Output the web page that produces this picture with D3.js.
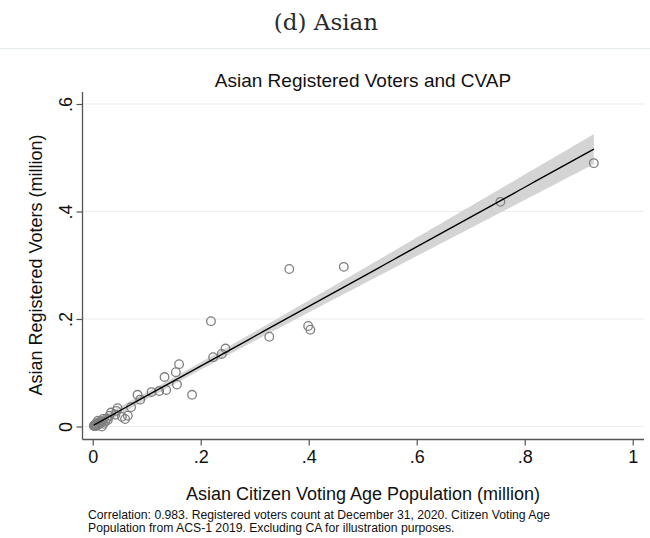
<!DOCTYPE html>
<html><head><meta charset="utf-8">
<script src="https://cdn.jsdelivr.net/npm/d3@7"></script>
<style>body{margin:0;background:#fff}svg{display:block}</style>
</head><body>
<svg id="c" width="650" height="538"></svg>
<script>
// CVAP (million) for each state, excluding CA
const cvap = [0.928,0.755,0.465,0.364,0.403,0.399,0.327,0.219,0.246,0.239,0.223,0.184,0.160,0.154,0.156,0.133,0.136,0.123,0.109,0.083,0.088,0.071,0.046,0.044,0.034,0.042,0.054,0.065,0.060,0.031,0.026,0.019,0.023,0.010,0.014,0.006,0.002,0.017,0.008,0.012,0.004,0.016,0.020,0.005,0.003,0.009,0.028,0.011,0.007];
// Registered voters (million)
const registered = [0.490,0.418,0.297,0.293,0.180,0.187,0.167,0.196,0.145,0.135,0.129,0.059,0.116,0.101,0.078,0.092,0.068,0.066,0.064,0.059,0.050,0.036,0.034,0.029,0.026,0.022,0.018,0.020,0.014,0.020,0.015,0.014,0.009,0.011,0.006,0.005,0.001,0.000,0.003,0.008,0.003,0.010,0.005,0.002,0.002,0.006,0.012,0.004,0.001];
const xTicks = [0,0.2,0.4,0.6,0.8,1];
const xTickLabels = ["0",".2",".4",".6",".8","1"];
const yTicks = [0,0.2,0.4,0.6];
const yTickLabels = ["0",".2",".4",".6"];

(function(){
const svg = d3.select("#c");
const font = "'Liberation Sans', Arial, sans-serif";
const x = d3.scaleLinear().domain([0,1]).range([92.7,632.7]);
const y = d3.scaleLinear().domain([0,0.6]).range([426.5,104]);
const pl = 82.5, pr = 644, pb = 439.5, pt = 92;

// header
svg.append("text").attr("x",326).attr("y",30).attr("text-anchor","middle")
  .attr("font-family","'DejaVu Serif', 'Liberation Serif', serif").attr("font-size",23).attr("fill","#2a2a2a").text("(d) Asian");
svg.append("line").attr("x1",0).attr("x2",650).attr("y1",48.5).attr("y2",48.5).attr("stroke","#e4ecee").attr("stroke-width",1.2);

// gridlines
svg.append("g").selectAll("line").data(yTicks).join("line")
  .attr("x1",pl).attr("x2",pr).attr("y1",d=>y(d)).attr("y2",d=>y(d))
  .attr("stroke","#ececec").attr("stroke-width",1);

// fit + CI
const n = cvap.length;
const xm = d3.mean(cvap), ym = d3.mean(registered);
let sxx=0,sxy=0; for(let i=0;i<n;i++){sxx+=(cvap[i]-xm)**2;sxy+=(cvap[i]-xm)*(registered[i]-ym);}
const b = sxy/sxx, a = ym-b*xm;
let sse=0; for(let i=0;i<n;i++){sse+=(registered[i]-a-b*cvap[i])**2;}
const s = Math.sqrt(sse/(n-2)), t = 2.012;
const xs = d3.range(0,101).map(i=>d3.min(cvap)+(d3.max(cvap)-d3.min(cvap))*i/100);
const band = xs.map(v=>{const se=s*Math.sqrt(1/n+(v-xm)**2/sxx);const f=a+b*v;return {v,lo:f-t*se,hi:f+t*se,f};});
svg.append("path").datum(band).attr("fill","#d4d4d4")
  .attr("d",d3.area().x(d=>x(d.v)).y0(d=>y(d.lo)).y1(d=>y(d.hi)));

// points
svg.append("g").selectAll("circle").data(cvap).join("circle")
  .attr("cx",d=>x(d)).attr("cy",(d,i)=>y(registered[i])).attr("r",4.3)
  .attr("fill","none").attr("stroke","#7f7f7f").attr("stroke-width",1.3);

svg.append("path").datum(band).attr("fill","none").attr("stroke","#000").attr("stroke-width",1.4)
  .attr("d",d3.line().x(d=>x(d.v)).y(d=>y(d.f)));

// axes
const ax = svg.append("g").attr("transform",`translate(0,${pb})`)
  .call(d3.axisBottom(x).tickValues(xTicks).tickFormat((d,i)=>xTickLabels[i]).tickSize(6).tickPadding(5));
ax.select(".domain").attr("d",`M${pl},0H${pr}`);
const ay = svg.append("g").attr("transform",`translate(${pl},0)`)
  .call(d3.axisLeft(y).tickValues(yTicks).tickFormat((d,i)=>yTickLabels[i]).tickSize(6).tickPadding(0));
ay.select(".domain").attr("d",`M0,${pt}V${pb}`);
[ax,ay].forEach(g=>{g.selectAll(".domain").attr("stroke","#555").attr("stroke-width",1.3);
  g.selectAll(".tick line").attr("stroke","#555").attr("stroke-width",1.2);
  g.selectAll("text").attr("font-family",font).attr("font-size",18).attr("fill","#111");});
ay.selectAll(".tick text").attr("text-anchor","middle").attr("dy",null)
  .attr("transform","translate(-17,0) rotate(-90)").attr("x",0).attr("dy","0.35em");

// titles
svg.append("text").attr("x",363).attr("y",87).attr("text-anchor","middle").attr("font-family",font)
  .attr("font-size",19).attr("fill","#111").text("Asian Registered Voters and CVAP");
svg.append("text").attr("transform","translate(42,265) rotate(-90)").attr("text-anchor","middle").attr("font-family",font)
  .attr("font-size",18).attr("fill","#111").text("Asian Registered Voters (million)");
svg.append("text").attr("x",363).attr("y",500).attr("text-anchor","middle").attr("font-family",font)
  .attr("font-size",18).attr("fill","#111").text("Asian Citizen Voting Age Population (million)");
const notes = ["Correlation: 0.983. Registered voters count at December 31, 2020. Citizen Voting Age","Population from ACS-1 2019. Excluding CA for illustration purposes."];
svg.append("g").selectAll("text").data(notes).join("text").attr("x",88).attr("y",(d,i)=>519+i*12.5)
  .attr("font-family",font).attr("font-size",12.2).attr("fill","#111").text(d=>d);
})();
</script>
</body></html>
